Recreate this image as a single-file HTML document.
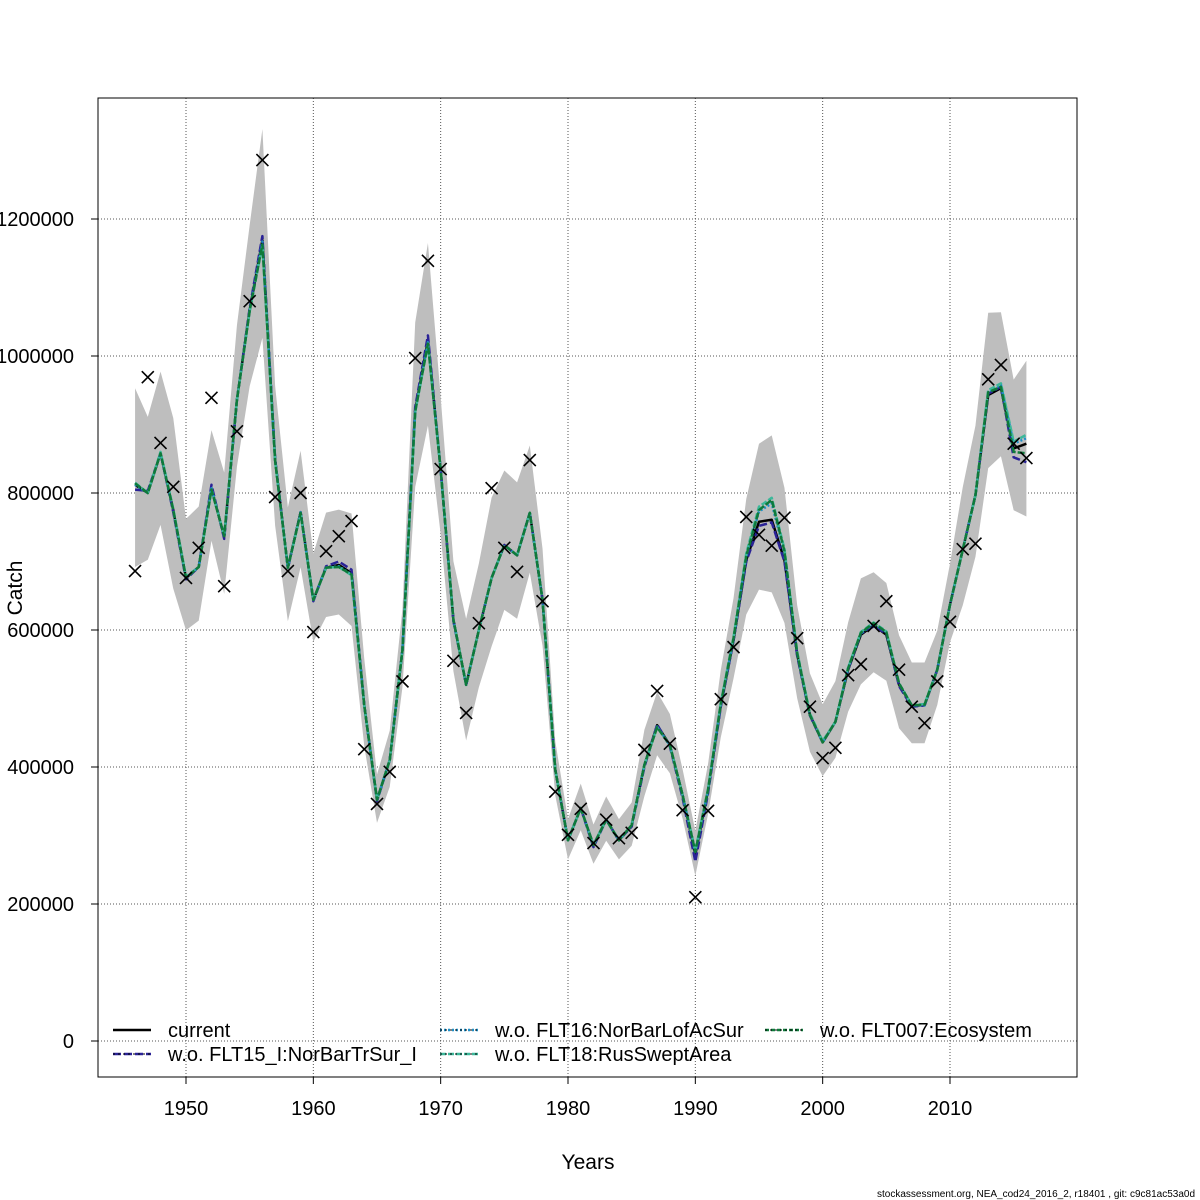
<!DOCTYPE html>
<html><head><meta charset="utf-8"><style>
body{margin:0;background:#fff}
svg{display:block;font-family:"Liberation Sans",sans-serif}
</style></head><body>
<svg id="chart" width="1200" height="1200" viewBox="0 0 1200 1200"></svg>
<script>
const years=[];for(let y=1946;y<=2016;y++)years.push(y);
const observed=[686,969,873,809,676,720,939,664,890,1080,1286,794,686,800,597,715,737,759,426,346,393,525,997,1139,835,555,479,610,807,720,685,848,642,364,301,339,289,323,296,304,425,511,434,337,210,336,499,575,765,739,723,764,588,488,413,428,534,550,606,642,542,488,464,525,612,718,726,966,987,872,851];
const current=[812,800,858,775,676,692,807,736,936,1067,1169,848,691,772,644,691,695,683,490,352,410,571,921,1023,834,615,520,600,676,724,709,771,644,396,293,340,286,323,293,315,403,461,432,359,272,366,490,585,702,758,761,702,564,476,436,466,542,593,607,593,520,490,490,542,637,717,797,943,953,865,872];
const flt15=[805,803,858,772,674,692,812,733,936,1070,1175,850,690,772,642,693,700,688,490,350,410,571,925,1030,834,613,520,600,676,724,709,771,644,396,293,340,283,323,293,313,400,462,430,355,262,362,488,585,700,752,757,700,562,475,436,466,542,595,605,595,518,488,490,542,637,717,797,945,955,852,845];
const flt16=[812,800,858,775,676,692,807,736,936,1067,1167,848,691,772,644,691,693,681,490,352,410,571,919,1020,834,615,520,600,676,724,709,771,644,396,293,340,286,323,293,315,403,459,432,359,275,366,492,587,708,773,785,712,566,476,436,466,545,595,609,597,522,490,490,542,637,717,797,948,958,872,880];
const flt18=[815,800,860,777,678,692,805,738,936,1065,1162,846,691,770,644,691,692,680,490,352,410,571,918,1018,834,615,520,600,676,724,709,771,644,396,293,340,286,323,293,315,403,458,432,359,278,368,494,590,712,780,793,718,568,478,438,466,545,597,611,598,522,490,492,542,637,717,797,950,960,875,885];
const flt007=[814,800,858,775,676,692,805,737,936,1066,1163,847,691,771,644,691,692,681,490,352,410,571,919,1018,834,615,520,600,676,724,709,771,644,396,293,340,286,323,293,315,403,458,432,359,276,367,492,588,708,775,790,715,566,476,436,466,544,596,610,597,522,490,491,542,637,717,797,947,955,860,858];
const ciSd=[0.16,0.13,0.13,0.16,0.12,0.12,0.1,0.12,0.11,0.11,0.13,0.12,0.12,0.11,0.1,0.11,0.11,0.12,0.13,0.1,0.1,0.1,0.13,0.13,0.12,0.13,0.17,0.15,0.16,0.14,0.14,0.12,0.11,0.1,0.1,0.1,0.1,0.1,0.1,0.1,0.12,0.1,0.1,0.1,0.12,0.1,0.1,0.1,0.12,0.14,0.15,0.14,0.12,0.12,0.12,0.12,0.12,0.13,0.12,0.12,0.13,0.12,0.12,0.1,0.09,0.12,0.12,0.12,0.11,0.11,0.13];
const xTicks=[1950,1960,1970,1980,1990,2000,2010];
const yTicks=[0,200000,400000,600000,800000,1000000,1200000];

const NS='http://www.w3.org/2000/svg';
const svg=document.getElementById('chart');
const X=y=>186+(y-1950)*12.7333;
const Y=v=>1041-v*0.000685;
function mk(tag,attrs,parent){const e=document.createElementNS(NS,tag);for(const k in attrs)e.setAttribute(k,attrs[k]);(parent||svg).appendChild(e);return e;}

xTicks.forEach(t=>{const l=mk('line',{x1:X(t),x2:X(t),y1:98,y2:1077,stroke:'#555','stroke-dasharray':'1,2','stroke-width':1});

});
yTicks.forEach(t=>{const l=mk('line',{x1:98,x2:1077,y1:Y(t),y2:Y(t),stroke:'#555','stroke-dasharray':'1,2','stroke-width':1});

});

let up=[],lo=[];
years.forEach((y,i)=>{up.push(X(y)+','+Y(current[i]*1000*Math.exp(ciSd[i])));lo.unshift(X(y)+','+Y(current[i]*1000*Math.exp(-ciSd[i])));});
const band=mk('polygon',{points:up.concat(lo).join(' '),fill:'#bebebe',stroke:'none'});



function line(arr,color,dash,name){const p=mk('polyline',{points:years.map((y,i)=>X(y)+','+Y(arr[i]*1000)).join(' '),fill:'none',stroke:color,'stroke-width':2.5,'stroke-dasharray':dash||'none','stroke-linejoin':'round'});

}
line(current,'#000','', 'line-current');
line(flt15,'#2a2296','8,3','line-flt15');
line(flt16,'#1e90c8','2,2','line-flt16');
line(flt18,'#3cb89a','6,2','line-flt18');
line(flt007,'#0f7a3a','7,2','line-flt007');

years.forEach((y,i)=>{const cx=X(y),cy=Y(observed[i]*1000),s=6;
const g=mk('path',{d:`M${cx-s},${cy-s}L${cx+s},${cy+s}M${cx-s},${cy+s}L${cx+s},${cy-s}`,stroke:'#000','stroke-width':1.6,fill:'none'});

});

const fr=mk('rect',{x:98,y:98,width:979,height:979,fill:'none',stroke:'#000','stroke-width':1});



xTicks.forEach(t=>{mk('line',{x1:X(t),x2:X(t),y1:1077,y2:1084,stroke:'#000'});
const tx=mk('text',{x:X(t),y:1115,'font-size':20,'text-anchor':'middle'});tx.textContent=t;

});
yTicks.forEach(t=>{mk('line',{x1:91,x2:98,y1:Y(t),y2:Y(t),stroke:'#000'});
const tx=mk('text',{x:74,y:Y(t)+7,'font-size':20,'text-anchor':'end'});tx.textContent=t;

});
const xt=mk('text',{x:588,y:1169,'font-size':21,'text-anchor':'middle'});xt.textContent='Years';


const yt=mk('text',{x:22,y:588,'font-size':21,'text-anchor':'middle',transform:'rotate(-90 22 588)'});yt.textContent='Catch';



const leg=[['current','#000','',113,1030],['w.o. FLT15_I:NorBarTrSur_I','#2a2296','8,3',113,1054],['w.o. FLT16:NorBarLofAcSur','#1e90c8','2,2',440,1030],['w.o. FLT18:RusSweptArea','#3cb89a','6,2',440,1054],['w.o. FLT007:Ecosystem','#0f7a3a','4,2',765,1030]];
leg.forEach(([lab,c,d,x,y])=>{mk('line',{x1:x,x2:x+38,y1:y,y2:y,stroke:c,'stroke-width':2.5,'stroke-dasharray':d||'none'});
if(lab!=='current')mk('line',{x1:x,x2:x+38,y1:y,y2:y,stroke:'#000','stroke-width':1,'stroke-dasharray':'2,3'});
const t=mk('text',{x:x+55,y:y+7,'font-size':20});t.textContent=lab;

});

const ft=mk('text',{x:1195,y:1197,'font-size':10,'text-anchor':'end'});ft.textContent='stockassessment.org, NEA_cod24_2016_2, r18401 , git: c9c81ac53a0d';


</script>
</body></html>
